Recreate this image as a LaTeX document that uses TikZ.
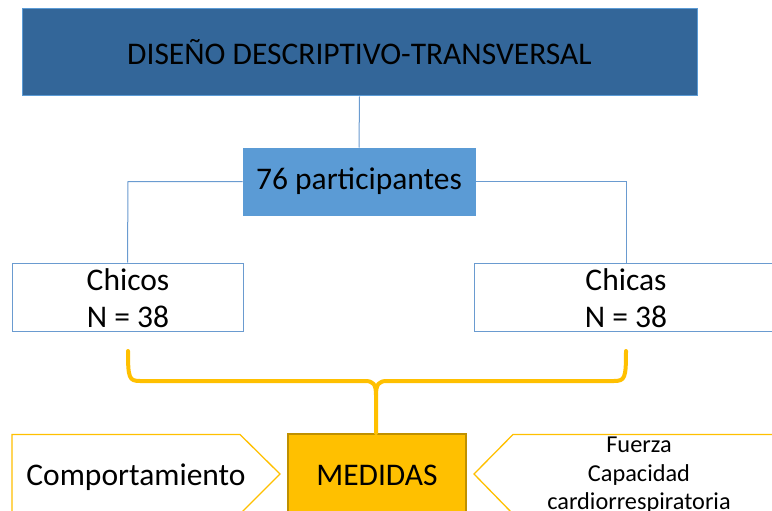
\documentclass[tikz,border=0pt]{standalone}
\usepackage{fontspec}
\setmainfont{Carlito}
\definecolor{darkblue}{HTML}{336699}
\definecolor{midblue}{HTML}{5B9BD5}
\definecolor{lineblue}{HTML}{6A9BD0}
\definecolor{gold}{HTML}{FFC000}
\definecolor{darkgold}{HTML}{BF9000}
\tikzset{
  bigtext/.style={font=\fontsize{31.5}{36}\selectfont, text=black},
  smalltext/.style={font=\fontsize{24.3}{29}\selectfont, text=black, align=center},
  bluebox/.style={draw=midblue, line width=1pt, inner sep=0pt},
  conn/.style={draw=lineblue, line width=1pt},
  brace/.style={draw=gold, line width=4pt, line cap=round, line join=round},
  arrowbox/.style={draw=gold, fill=white, line width=1.3pt, line join=miter},
}
\begin{document}
\begin{tikzpicture}[x=1pt,y=-1pt]
\clip (0,0) rectangle (772,511);
\fill[white] (0,0) rectangle (772,511);
% title
\node[bluebox, fill=darkblue, minimum width=675pt, minimum height=87pt, bigtext] (title) at (359.5,52.5) {DISEÑO DESCRIPTIVO-TRANSVERSAL};
% participants
\node[bluebox, draw=midblue, fill=midblue, minimum width=232pt, minimum height=67pt, bigtext] (part) at (359,181.5) {76 participantes};
% groups
\node[bluebox, draw=lineblue, fill=white, minimum width=231pt, minimum height=68pt] (chicos) at (127.5,297) {};
\node[bluebox, draw=lineblue, fill=white, minimum width=306pt, minimum height=68pt] (chicas) at (627,297) {};
\node[bigtext, anchor=base] (chicostxt) at (128,290) {Chicos};
\node[bigtext, anchor=base] (chicosn) at (128,327) {N = 38};
\node[bigtext, anchor=base] (chicastxt) at (626,290) {Chicas};
\node[bigtext, anchor=base] (chicasn) at (626,327) {N = 38};
% connectors
\draw[conn] (title.south) -- (part.north);
\draw[conn] (part.west) -- (128,181.5) -- (chicos.north);
\draw[conn] (part.east) -- (626,181.5) -- (626,263);
% measures
\node[draw=darkgold, fill=gold, line width=1.3pt, minimum width=178pt, minimum height=90pt, inner sep=0pt] (medidas) at (377,479) {};
\node[bigtext, anchor=base] (medidastxt) at (377,485) {MEDIDAS};
\draw[arrowbox] (12,434.5) -- (240,434.5) -- (280,474) -- (240,514) -- (12,514) -- cycle;
\node[bigtext, anchor=base] (comp) at (136,485) {Comportamiento};
\draw[arrowbox] (790,434.5) -- (513,434.5) -- (474,474) -- (513,514) -- (790,514) -- cycle;
\node[smalltext, anchor=base] (f1) at (639,452) {Fuerza};
\node[smalltext, anchor=base] (f2) at (639,481) {Capacidad};
\node[smalltext, anchor=base] (f3) at (639,509.5) {cardiorrespiratoria};
% brace
\coordinate (bl) at (128,351);
\coordinate (br) at (626,351);
\coordinate (bm) at (376,433);
\draw[brace] (bl) .. controls (128,378) and (129,381) .. (140,381) -- (365,381) .. controls (373,381) and (376,384) .. (376,395) -- (bm);
\draw[brace] (br) .. controls (626,378) and (625,381) .. (614,381) -- (387,381) .. controls (379,381) and (376,384) .. (376,395);
\end{tikzpicture}
\end{document}
